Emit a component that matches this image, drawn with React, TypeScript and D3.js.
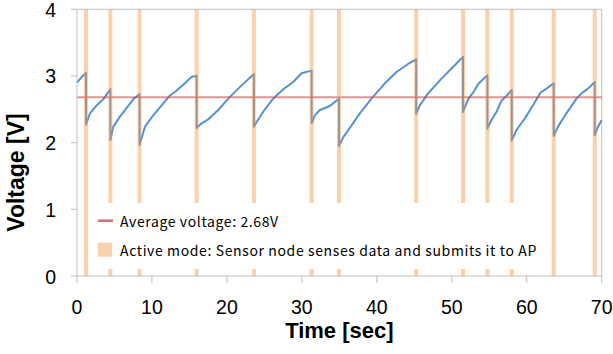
import React from "react";
import * as d3 from "d3";

// Supercapacitor voltage trace over time (seconds, volts)
const timeSec = [
  0, 0.6, 1.2, 1.2, 1.73, 2.63, 3.51, 4.31, 4.45, 4.45, 4.84, 5.73, 6.63, 7.51, 8.27, 8.35,
  8.35, 9.07, 10.17, 11.29, 12.4, 13.07, 14.4, 15.29, 15.96, 15.96, 16.63, 17.51, 18.84, 20.17,
  21.51, 22.84, 23.6, 23.6, 23.96, 25.07, 26.17, 27.51, 28.84, 29.96, 31.3, 31.3, 31.73, 32.4,
  33.73, 34.95, 34.95, 35.51, 36.63, 37.73, 39.29, 41.07, 42.63, 44.17, 45.25, 45.25, 45.73,
  46.84, 48.63, 50.4, 51.5, 51.5, 52.17, 53.07, 53.51, 54.75, 54.75, 55.29, 55.96, 56.63, 57.29,
  58.0, 58.0, 58.63, 59.73, 60.84, 61.83, 62.63, 63.6, 63.6, 64.17, 65.29, 66.63, 67.29, 68.17,
  69.07, 69.07, 69.51, 70,
];
const voltage = [
  2.9, 2.98, 3.05, 2.27, 2.44, 2.56, 2.65, 2.78, 2.8, 2.04, 2.24, 2.39, 2.52, 2.65, 2.72, 2.73,
  1.97, 2.24, 2.41, 2.56, 2.71, 2.76, 2.89, 2.99, 3.0, 2.22, 2.29, 2.35, 2.49, 2.66,
  2.81, 2.95, 3.03, 2.24, 2.31, 2.5, 2.66, 2.8, 2.91, 3.04, 3.08, 2.29, 2.41, 2.49,
  2.55, 2.66, 1.95, 2.08, 2.26, 2.44, 2.66, 2.89, 3.06, 3.18, 3.25, 2.43, 2.56,
  2.74, 2.96, 3.16, 3.29, 2.46, 2.65, 2.79, 2.88, 3.01, 2.21, 2.34, 2.46, 2.63, 2.7,
  2.79, 2.03, 2.19, 2.36, 2.56, 2.75, 2.81, 2.89, 2.1, 2.24, 2.44, 2.66, 2.74, 2.81,
  2.91, 2.11, 2.24, 2.34,
];

// Moments when the node wakes up to sense and transmit
const activeTimes = [1.2, 4.45, 8.35, 15.96, 23.6, 31.3, 34.95, 45.25, 51.5, 54.75, 58.0, 63.6, 69.07];

const avgVoltage = 2.68;

const xTicks = [0, 10, 20, 30, 40, 50, 60, 70];
const yTicks = [0, 1, 2, 3, 4];

const legendLabels = [
  "Average voltage: 2.68V",
  "Active mode: Sensor node senses data and submits it to AP",
];

const W = 613;
const H = 354;
const left = 77;
const right = 601.7;
const top = 9.3;
const bottom = 276;

export default function App() {
  const x = d3.scaleLinear().domain([0, 70]).range([left, right]);
  const y = d3.scaleLinear().domain([0, 4]).range([bottom, top]);

  const pts: [number, number][] = timeSec.map((t, i) => [t, voltage[i]]);
  const line = d3
    .line<[number, number]>()
    .x((d) => x(d[0]))
    .y((d) => y(d[1]));

  const axisColor = "#BFBFBF";
  const tickFont = "'Liberation Sans', Arial, sans-serif";
  const legendFont = "'Noto Sans CJK JP', 'Noto Sans', sans-serif";

  return (
    <svg
      width={W}
      height={H}
      style={{ position: "absolute", left: 0, top: 0, background: "#fff" }}
    >
      <rect x={0} y={0} width={W} height={H} fill="#fff" />

      {/* plot frame */}
      <line x1={left} y1={top} x2={right} y2={top} stroke={axisColor} strokeWidth={1} />
      <line x1={right} y1={top} x2={right} y2={bottom} stroke={axisColor} strokeWidth={1} />

      {/* voltage trace */}
      <path d={line(pts) ?? ""} fill="none" stroke="#5592CF" strokeWidth={2} strokeLinejoin="round" />

      {/* average voltage */}
      <line
        x1={left}
        x2={right}
        y1={y(avgVoltage)}
        y2={y(avgVoltage)}
        stroke="#C0504D"
        strokeOpacity={0.6}
        strokeWidth={2}
      />

      {/* active-mode bands */}
      {activeTimes.map((t, i) => (
        <rect
          key={i}
          x={x(t) - 2}
          y={top}
          width={4}
          height={bottom - top}
          fill="#F79646"
          fillOpacity={0.45}
        />
      ))}

      {/* legend */}
      <rect x={89} y={203} width={461} height={66} fill="#fff" />
      <line x1={98} x2={113} y1={220.7} y2={220.7} stroke="#C0504D" strokeOpacity={0.8} strokeWidth={2.5} />
      <rect x={97.7} y={242.7} width={14.5} height={14} fill="#F79646" fillOpacity={0.45} />
      <text
        x={120}
        y={221}
        dominantBaseline="central"
        fontFamily={legendFont}
        fontSize={14}
        letterSpacing={0.62}
        fill="#000"
      >
        {legendLabels[0]}
      </text>
      <text
        x={120}
        y={250}
        dominantBaseline="central"
        fontFamily={legendFont}
        fontSize={14}
        letterSpacing={0.62}
        fill="#000"
      >
        {legendLabels[1]}
      </text>

      {/* axes */}
      <line x1={left} y1={top} x2={left} y2={bottom} stroke={axisColor} strokeWidth={1} />
      <line x1={left} y1={bottom} x2={right} y2={bottom} stroke={axisColor} strokeWidth={1} />
      {yTicks.map((v) => (
        <g key={"y" + v}>
          <line x1={left - 6} x2={left} y1={y(v)} y2={y(v)} stroke={axisColor} />
          <text
            x={56}
            y={y(v) + 7.5}
            textAnchor="end"
            fontFamily={tickFont}
            fontSize={19.5}
            fill="#000"
          >
            {v}
          </text>
        </g>
      ))}
      {xTicks.map((v) => (
        <g key={"x" + v}>
          <line x1={x(v)} x2={x(v)} y1={bottom} y2={bottom + 7} stroke={axisColor} />
          <text x={x(v)} y={314} textAnchor="middle" fontFamily={tickFont} fontSize={19.5} fill="#000">
            {v}
          </text>
        </g>
      ))}

      {/* axis titles */}
      <text
        x={(left + right) / 2}
        y={337.7}
        textAnchor="middle"
        fontFamily={tickFont}
        fontWeight="bold"
        fontSize={22}
        fill="#000"
      >
        Time [sec]
      </text>
      <text
        transform={`translate(24, ${(111.7 + 233.3) / 2}) rotate(-90)`}
        textAnchor="middle"
        fontFamily={tickFont}
        fontWeight="bold"
        fontSize={23}
        fill="#000"
      >
        Voltage [V]
      </text>
    </svg>
  );
}
